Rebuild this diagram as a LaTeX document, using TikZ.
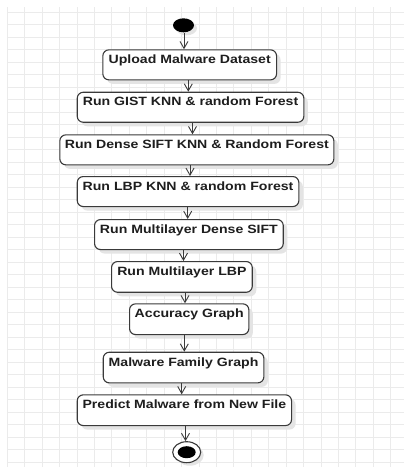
\documentclass[tikz,border=0pt]{standalone}
\usepackage{fontspec}
\setmainfont[FakeStretch=1.175]{Liberation Sans}
\usetikzlibrary{shapes.geometric,shadows,arrows.meta}
\definecolor{gridc}{HTML}{EBEBEB}
\definecolor{edgec}{HTML}{3A3A3A}
\definecolor{txtc}{HTML}{1E1E1E}
\definecolor{shadc}{HTML}{E4E4E4}
\tikzset{
  gridline/.style={draw=gridc, line width=1pt},
  actbox/.style={draw=edgec, line width=1.1pt, fill=white, rounded corners=6pt,
    inner xsep=0pt, inner ysep=0pt, text height=13.5pt, text depth=16.5pt,
    font=\fontsize{12}{14}\selectfont\bfseries, text=txtc, anchor=north west,
    drop shadow={shadow xshift=4pt, shadow yshift=-4pt, fill=shadc, opacity=1}},
  flow/.style={draw=edgec, line width=0.9pt, -{Straight Barb[length=7pt,width=8pt,line width=0.9pt]}},
}
\begin{document}
\begin{tikzpicture}[x=1pt,y=-1pt]
\useasboundingbox (0,0) rectangle (404,467);
\fill[white] (0,0) rectangle (404,467);
% grid
\foreach \k in {0,...,22} \draw[gridline] ({7.3+17.43*\k},7) -- ({7.3+17.43*\k},467);
\foreach \k in {0,...,36} \draw[gridline] (7.3,{12.4+12.49*\k}) -- (404,{12.4+12.49*\k});
% start
\node[ellipse, fill=black, inner sep=0pt, minimum width=21pt, minimum height=14pt,
  drop shadow={shadow xshift=3pt, shadow yshift=-3pt, fill=shadc, opacity=1}] (start) at (183.5,25.3) {};
% boxes
\node[actbox, minimum width=173.7pt, minimum height=29.7pt] (b1) at (102.3,49.3) {Upload Malware Dataset};
\node[actbox, minimum width=226.6pt, minimum height=30pt] (b2) at (76.7,91.7) {Run GIST KNN \& random Forest};
\node[actbox, minimum width=274pt, minimum height=29.7pt] (b3) at (59.3,134.3) {Run Dense SIFT KNN \& Random Forest};
\node[actbox, minimum width=221.6pt, minimum height=30pt] (b4) at (76.7,176) {Run LBP KNN \& random Forest};
\node[actbox, minimum width=188.7pt, minimum height=30pt] (b5) at (94,219) {Run Multilayer Dense SIFT};
\node[actbox, minimum width=140.7pt, minimum height=30.7pt] (b6) at (111,261) {Run Multilayer LBP};
\node[actbox, minimum width=119.3pt, minimum height=30.7pt] (b7) at (129,303.3) {Accuracy Graph};
\node[actbox, minimum width=160.6pt, minimum height=30.6pt] (b8) at (102.7,351.7) {Malware Family Graph};
\node[actbox, minimum width=214.3pt, minimum height=30.7pt] (b9) at (76.7,394.3) {Predict Malware from New File};
% end
\node[ellipse, draw=edgec, line width=1.1pt, fill=white, inner sep=0pt, minimum width=28pt, minimum height=21pt,
  drop shadow={shadow xshift=3pt, shadow yshift=-3pt, fill=shadc, opacity=1}] (end) at (186.7,452.2) {};
\node[ellipse, fill=black, inner sep=0pt, minimum width=18pt, minimum height=12pt] (endin) at (end.center) {};
% connector x positions
\coordinate (x01) at (184,0);
\coordinate (x12) at (188.3,0);
\coordinate (x23) at (192.5,0);
\coordinate (x34) at (190,0);
\coordinate (x45) at (187.7,0);
\coordinate (x56) at (183.5,0);
\coordinate (x67) at (185,0);
\coordinate (x78) at (184.3,0);
\coordinate (x89) at (181.7,0);
\coordinate (x9e) at (185.5,0);
\draw[flow] (start.south -| x01) -- (b1.north -| x01);
\draw[flow] (b1.south -| x12) -- (b2.north -| x12);
\draw[flow] (b2.south -| x23) -- (b3.north -| x23);
\draw[flow] (b3.south -| x34) -- (b4.north -| x34);
\draw[flow] (b4.south -| x45) -- (b5.north -| x45);
\draw[flow] (b5.south -| x56) -- (b6.north -| x56);
\draw[flow] (b6.south -| x67) -- (b7.north -| x67);
\draw[flow] (b7.south -| x78) -- (b8.north -| x78);
\draw[flow] (b8.south -| x89) -- (b9.north -| x89);
\draw[flow] (b9.south -| x9e) -- (end.north -| x9e);
\end{tikzpicture}
\end{document}
